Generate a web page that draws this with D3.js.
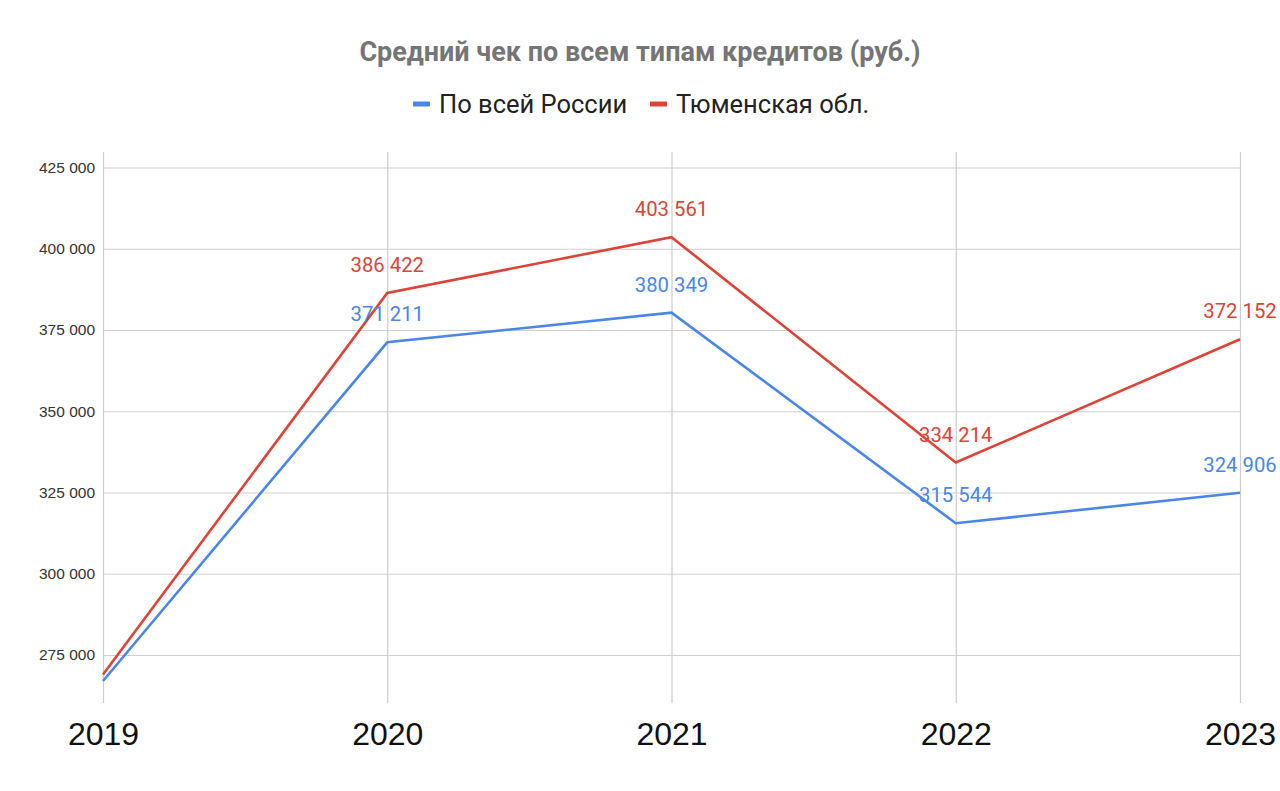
<!DOCTYPE html>
<html><head><meta charset="utf-8">
<script src="https://cdn.jsdelivr.net/npm/d3@7"></script>
<style>body{margin:0;background:#fff}svg{display:block}</style>
</head><body>
<svg id="c" width="1280" height="791"></svg>
<script>
const years = ["2019","2020","2021","2022","2023"];
const russia = [267000, 371211, 380349, 315544, 324906];
const tyumen = [269000, 386422, 403561, 334214, 372152];
const yTicks = [275000, 300000, 325000, 350000, 375000, 400000, 425000];
const seriesNames = ["По всей России", "Тюменская обл."];
const colors = ["#4a86e8", "#dc4437"];
const title = "Средний чек по всем типам кредитов (руб.)";

const svg = d3.select("#c");
const L = 103, R = 1240, T = 152, B = 703;
const x = d3.scalePoint().domain(years).range([L, R]);
const y = d3.scaleLinear().domain([275000, 425000]).range([655, 167.5]);
const fmt = v => d3.format(",")(v).replace(/,/g, " ");

// grid
const yAxis = d3.axisLeft(y).tickValues(yTicks).tickSize(-(R - L)).tickFormat(fmt).tickPadding(8);
const gy = svg.append("g").attr("transform", `translate(${L},0)`).call(yAxis);
gy.select(".domain").remove();
gy.selectAll("line").attr("stroke", "#d0d0d0").attr("stroke-width", 1.2);
gy.selectAll("text").attr("font-family", "Arial, 'Liberation Sans', sans-serif").attr("font-size", 15.5).attr("fill", "#333");

const xAxis = d3.axisBottom(x).tickSize(-(B - T)).tickPadding(19);
const gx = svg.append("g").attr("transform", `translate(0,${B})`).call(xAxis);
gx.select(".domain").remove();
gx.selectAll("line").attr("stroke", "#cccccc").attr("stroke-width", 1.2);
gx.selectAll("text").attr("font-family", "Arial, 'Liberation Sans', sans-serif").attr("font-size", 32).attr("fill", "#111");

const data = [russia, tyumen];
const line = d3.line().x((d, i) => x(years[i])).y(d => y(d));
data.forEach((s, k) => {
  svg.append("path").datum(s).attr("d", line).attr("fill", "none")
    .attr("stroke", colors[k]).attr("stroke-width", 2.6).attr("stroke-linejoin", "miter");
});
data.forEach((s, k) => {
  svg.append("g").selectAll("text").data(s.slice(1)).join("text")
    .attr("x", (d, i) => x(years[i + 1]))
    .attr("y", d => y(d) - 21)
    .attr("text-anchor", "middle")
    .attr("font-family", "Roboto, sans-serif").attr("font-size", 20.3)
    .attr("fill", colors[k]).text(fmt);
});

// title
svg.append("text").attr("x", 640).attr("y", 61).attr("text-anchor", "middle")
  .attr("font-family", "Roboto, Arial, sans-serif").attr("font-weight", "bold")
  .attr("font-size", 27).attr("fill", "#757575").text(title);

// legend
const legX = [413, 650];
seriesNames.forEach((n, k) => {
  svg.append("line").attr("x1", legX[k]).attr("x2", legX[k] + 17).attr("y1", 104).attr("y2", 104)
    .attr("stroke", colors[k]).attr("stroke-width", 5);
  svg.append("text").attr("x", legX[k] + 26).attr("y", 113)
    .attr("font-family", "Roboto, Arial, sans-serif").attr("font-size", 25.5).attr("fill", "#222").text(n);
});
</script>
</body></html>
